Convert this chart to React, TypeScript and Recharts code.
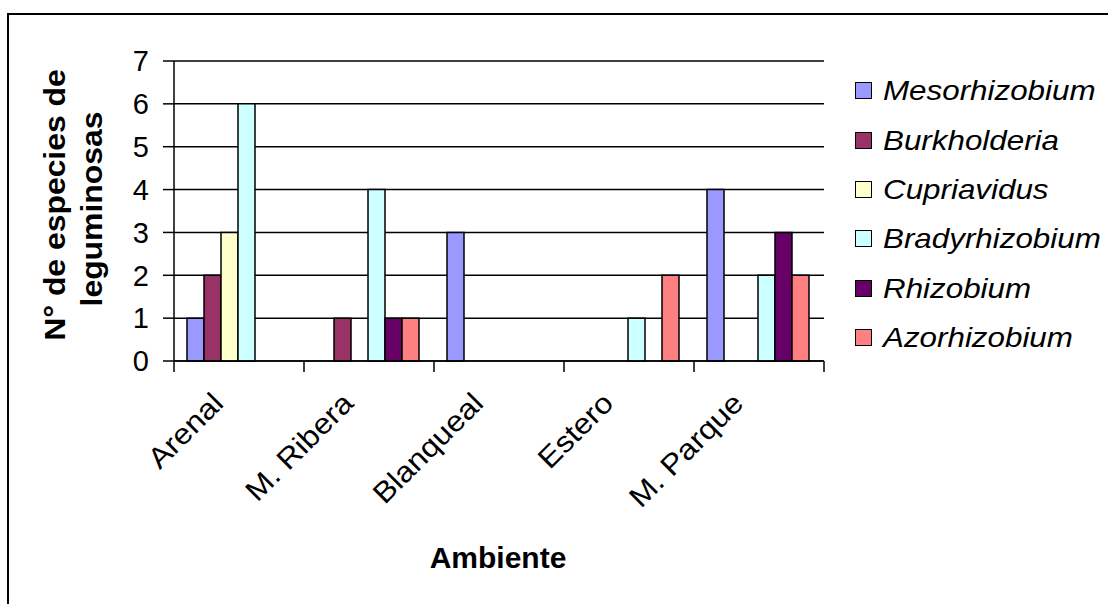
import { Bar, BarChart, CartesianGrid, XAxis, YAxis } from 'recharts'

const categories = ['Arenal', 'M. Ribera', 'Blanqueal', 'Estero', 'M. Parque']
const mesorhizobium = [1, 0, 3, 0, 4]
const burkholderia = [2, 1, 0, 0, 0]
const cupriavidus = [3, 0, 0, 0, 0]
const bradyrhizobium = [6, 4, 0, 1, 2]
const rhizobium = [0, 1, 0, 0, 3]
const azorhizobium = [0, 1, 0, 2, 2]
const yTicks = [0, 1, 2, 3, 4, 5, 6, 7]

const series = [
  { key: 'Mesorhizobium', values: mesorhizobium, color: '#9999FF' },
  { key: 'Burkholderia', values: burkholderia, color: '#993366' },
  { key: 'Cupriavidus', values: cupriavidus, color: '#FFFFCC' },
  { key: 'Bradyrhizobium', values: bradyrhizobium, color: '#CCFFFF' },
  { key: 'Rhizobium', values: rhizobium, color: '#660066' },
  { key: 'Azorhizobium', values: azorhizobium, color: '#FF8080' },
]

const data = categories.map((name, i) => {
  const row: Record<string, string | number> = { name }
  series.forEach((s) => {
    row[s.key] = s.values[i]
  })
  return row
})

const FONT = '"Liberation Sans", Arial, sans-serif'

// ticks sit between categories, labels rotated under each one
function CategoryTick({ x, y, payload, index, visibleTicksCount }: any) {
  const half = payload?.offset || 65
  const tx = x - 14
  const ty = y + 44
  return (
    <g>
      <line x1={x - half} x2={x - half} y1={y} y2={y + 11} stroke="#000" strokeWidth={1.5} />
      {index === visibleTicksCount - 1 && (
        <line x1={x + half} x2={x + half} y1={y} y2={y + 11} stroke="#000" strokeWidth={1.5} />
      )}
      <text
        x={0}
        y={0}
        textAnchor="end"
        transform={`translate(${tx} ${ty}) rotate(-45) scale(1.1 1)`}
        fontSize={29}
        fontFamily={FONT}
        fill="#000"
      >
        {payload.value}
      </text>
    </g>
  )
}

export default function App() {
  return (
    <div
      style={{
        position: 'absolute',
        left: 0,
        top: 0,
        width: 1108,
        height: 604,
        overflow: 'hidden',
        background: '#fff',
        fontFamily: FONT,
      }}
    >
      <div
        style={{
          position: 'absolute',
          left: 7,
          top: 13,
          width: 1300,
          height: 800,
          border: '2px solid #000',
        }}
      />
      <div style={{ position: 'absolute', left: 0, top: 0 }}>
        <BarChart
          width={1108}
          height={604}
          data={data}
          margin={{ top: 61, right: 284, bottom: 93, left: 0 }}
          barCategoryGap="10%"
          barGap={0}
        >
          <CartesianGrid vertical={false} stroke="#000" strokeWidth={1.5} />
          <XAxis
            dataKey="name"
            height={150}
            axisLine={{ stroke: '#000', strokeWidth: 1.5 }}
            tickLine={false}
            tickSize={0}
            tickMargin={0}
            interval={0}
            tick={<CategoryTick />}
          />
          <YAxis
            width={174}
            domain={[0, 7]}
            ticks={yTicks}
            interval={0}
            axisLine={{ stroke: '#000', strokeWidth: 1.5 }}
            tickLine={{ stroke: '#000', strokeWidth: 1.5 }}
            tickSize={11}
            tickMargin={14}
            tick={{ fontSize: 29, fill: '#000', fontFamily: FONT }}
          />
          {series.map((s) => (
            <Bar
              key={s.key}
              dataKey={s.key}
              fill={s.color}
              stroke="#000"
              strokeWidth={1.5}
              isAnimationActive={false}
            />
          ))}
        </BarChart>
      </div>
      <svg
        width={1108}
        height={604}
        style={{ position: 'absolute', left: 0, top: 0, pointerEvents: 'none' }}
      >
        <text
          transform="translate(65 205) rotate(-90) scale(1.1 1)"
          textAnchor="middle"
          fontSize={29}
          fontWeight="bold"
          fontFamily={FONT}
          fill="#000"
        >
          N° de especies de
        </text>
        <text
          transform="translate(102 209) rotate(-90) scale(1.1 1)"
          textAnchor="middle"
          fontSize={29}
          fontWeight="bold"
          fontFamily={FONT}
          fill="#000"
        >
          leguminosas
        </text>
        <text
          x={498}
          y={568}
          textAnchor="middle"
          fontSize={30}
          fontWeight="bold"
          fontFamily={FONT}
          fill="#000"
        >
          Ambiente
        </text>
      </svg>
      <div style={{ position: 'absolute', left: 855, top: 66 }}>
        {series.map((s) => (
          <div key={s.key} style={{ display: 'flex', alignItems: 'center', height: 49.4 }}>
            <div
              style={{
                width: 17,
                height: 17,
                boxSizing: 'border-box',
                border: '1.5px solid #000',
                background: s.color,
                marginRight: 11,
              }}
            />
            <span
              style={{
                display: 'inline-block',
                fontSize: 28.5,
                fontStyle: 'italic',
                color: '#000',
                transform: 'scaleX(1.1)',
                transformOrigin: 'left center',
                whiteSpace: 'nowrap',
              }}
            >
              {s.key}
            </span>
          </div>
        ))}
      </div>
    </div>
  )
}
